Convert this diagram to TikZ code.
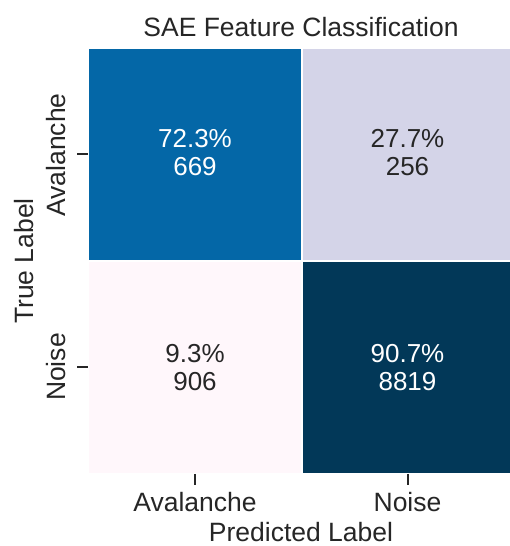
\documentclass[tikz,border=0pt]{standalone}
\usepackage{fontspec}
\setmainfont{Liberation Sans}
\definecolor{cTL}{RGB}{4,103,167}
\definecolor{cTR}{RGB}{212,212,232}
\definecolor{cBL}{RGB}{255,247,251}
\definecolor{cBR}{RGB}{2,56,88}
\definecolor{ink}{RGB}{38,38,38}
\begin{document}
\begin{tikzpicture}[x=1pt,y=1pt,
  lbl/.style={inner sep=0pt,font=\fontsize{26.5}{28}\selectfont,text=ink,anchor=base},
  celltxt/.style={inner sep=0pt,font=\fontsize{26}{28}\selectfont,anchor=base},
  tickln/.style={draw=ink,line width=1.3pt}]
\useasboundingbox (0,0) rectangle (510,546);
% cells
\fill[cTL] (89,284.5) rectangle (301.5,497);
\fill[cTR] (301.5,284.5) rectangle (510,497);
\fill[cBL] (89,73) rectangle (301.5,284.5);
\fill[cBR] (301.5,73) rectangle (510,284.5);
\draw[white,line width=2pt] (301.5,73) -- (301.5,497);
\draw[white,line width=2pt] (89,284.5) -- (510,284.5);
% cell texts
\node[celltxt,text=white] (a1) at (195,398) {72.3\%};
\node[celltxt,text=white] (a2) at (195,370) {669};
\node[celltxt,text=ink] (b1) at (407.5,398) {27.7\%};
\node[celltxt,text=ink] (b2) at (407.5,370) {256};
\node[celltxt,text=ink] (c1) at (195,183) {9.3\%};
\node[celltxt,text=ink] (c2) at (195,155) {906};
\node[celltxt,text=white] (d1) at (407.5,183) {90.7\%};
\node[celltxt,text=white] (d2) at (407.5,155) {8819};
% title
\node[lbl] (title) at (301,509) {SAE Feature Classification};
% y ticks
\coordinate (yt1a) at (77,392); \coordinate (yt1b) at (88,392);
\coordinate (yt2a) at (77,179); \coordinate (yt2b) at (88,179);
\draw[tickln] (yt1a) -- (yt1b);
\draw[tickln] (yt2a) -- (yt2b);
\node[lbl,rotate=90] (yl1) at (65,391) {Avalanche};
\node[lbl,rotate=90] (yl2) at (65,179) {Noise};
\node[lbl,rotate=90] (ylab) at (33,285) {True Label};
% x ticks
\coordinate (xt1a) at (195,72); \coordinate (xt1b) at (195,61);
\coordinate (xt2a) at (408,72); \coordinate (xt2b) at (408,61);
\draw[tickln] (xt1a) -- (xt1b);
\draw[tickln] (xt2a) -- (xt2b);
\node[lbl] (xl1) at (195,34) {Avalanche};
\node[lbl] (xl2) at (407.5,34) {Noise};
\node[lbl] (xlab) at (301,4.5) {Predicted Label};
\end{tikzpicture}
\end{document}
